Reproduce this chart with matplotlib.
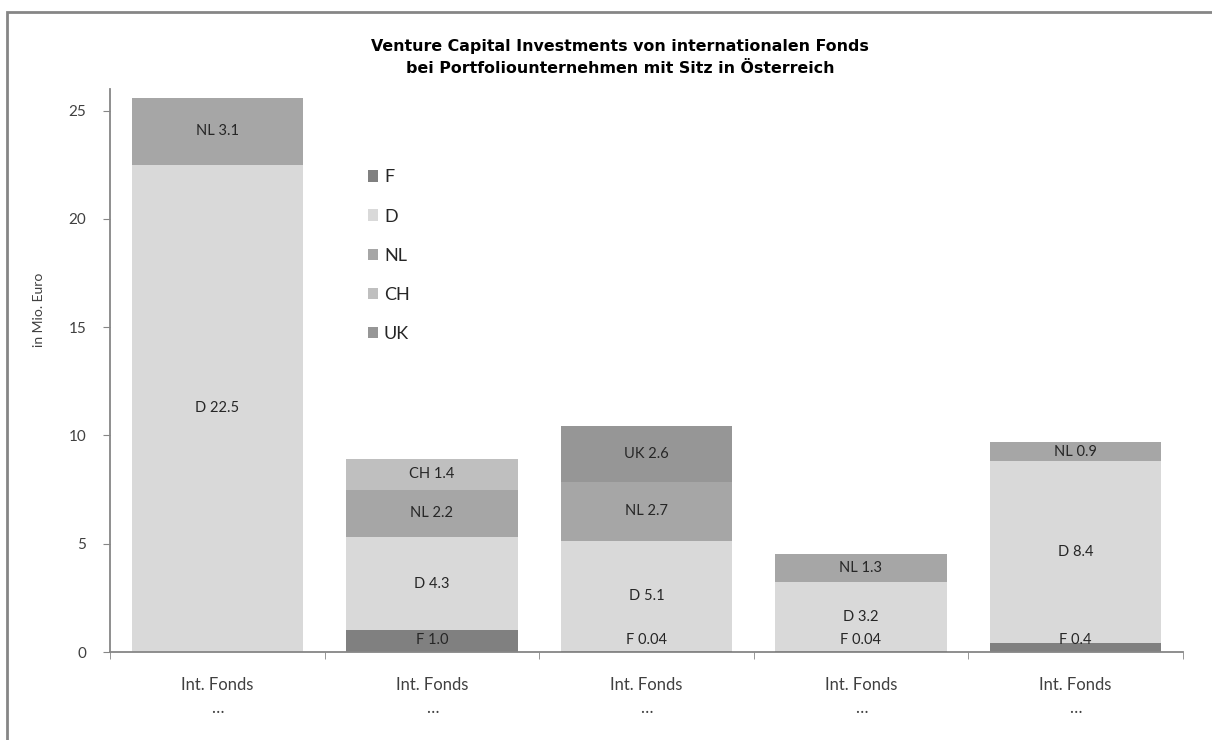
import matplotlib.pyplot as plt
from matplotlib.patches import Rectangle
from matplotlib.ticker import FixedLocator

categories = ["Int. Fonds\n…"] * 5
series = ["F", "D", "NL", "CH", "UK"]
values_f = [0.0, 1.0, 0.04, 0.04, 0.4]
values_d = [22.5, 4.3, 5.1, 3.2, 8.4]
values_nl = [3.1, 2.2, 2.7, 1.3, 0.9]
values_ch = [0.0, 1.4, 0.0, 0.0, 0.0]
values_uk = [0.0, 0.0, 2.6, 0.0, 0.0]
label_f = ["", "F 1.0", "F 0.04", "F 0.04", "F 0.4"]
colors = {"F": "#808080", "D": "#d9d9d9", "NL": "#a6a6a6", "CH": "#bfbfbf", "UK": "#969696"}

plt.rcParams['font.family'] = ['Lato', 'DejaVu Sans']

fig = plt.figure(figsize=(12.12, 7.40), dpi=100)
ax = fig.add_axes([0.0908, 0.1189, 0.885, 0.7608])

# outer chart frame (only left/top visible)
fig.patches.append(Rectangle((7/1212, -0.1), 1.2, 1 - 12/740 + 0.1, transform=fig.transFigure,
                             fill=False, edgecolor="#868686", lw=2))

x = list(range(len(categories)))
data = {"F": values_f, "D": values_d, "NL": values_nl, "CH": values_ch, "UK": values_uk}
bottom = [0.0] * len(x)
for s in series:
    vals = data[s]
    ax.bar(x, vals, width=0.8, bottom=bottom, color=colors[s], label=s, linewidth=0)
    for i, v in enumerate(vals):
        if v > 0:
            if s == "F":
                txt = label_f[i]
            else:
                txt = "%s %.1f" % (s, v)
            yc = max(bottom[i] + v / 2, 0.55)
            ax.text(i, yc, txt, ha="center", va="center", fontsize=10.5, color="#262626")
    bottom = [b + v for b, v in zip(bottom, vals)]

ax.set_xlim(-0.5, 4.5)
ax.set_ylim(0, 26)
ax.set_yticks([0, 5, 10, 15, 20, 25])
ax.set_xticks(x)
ax.set_xticklabels(categories, fontsize=12, color="#404040", linespacing=1.5)
ax.xaxis.set_minor_locator(FixedLocator([-0.5, 0.5, 1.5, 2.5, 3.5, 4.5]))
ax.tick_params(axis="x", which="major", length=0, pad=18)
ax.tick_params(axis="x", which="minor", length=5, color="#868686")
ax.tick_params(axis="y", length=5, color="#868686", labelsize=11, labelcolor="#404040", pad=12)
for sp in ["top", "right"]:
    ax.spines[sp].set_visible(False)
for sp in ["left", "bottom"]:
    ax.spines[sp].set_color("#868686")
    ax.spines[sp].set_linewidth(1.3)
ax.set_ylabel("in Mio. Euro", fontsize=10, color="#404040")
ax.yaxis.set_label_coords(-0.0604, 0.607)

fig.text(0.5116, 0.9223, "Venture Capital Investments von internationalen Fonds\nbei Portfoliounternehmen mit Sitz in Österreich",
         ha="center", va="center", fontsize=11.4, fontweight="bold", family="DejaVu Sans", linespacing=1.6)

handles, labels = ax.get_legend_handles_labels()
ax.legend(handles, labels, loc="upper left", bbox_to_anchor=(0.225, 0.886), frameon=False, fontsize=13,
          handlelength=0.6, handleheight=0.6, handletextpad=0.3, labelspacing=1.28, labelcolor="#262626")

fig.savefig("out.png", dpi=100)
